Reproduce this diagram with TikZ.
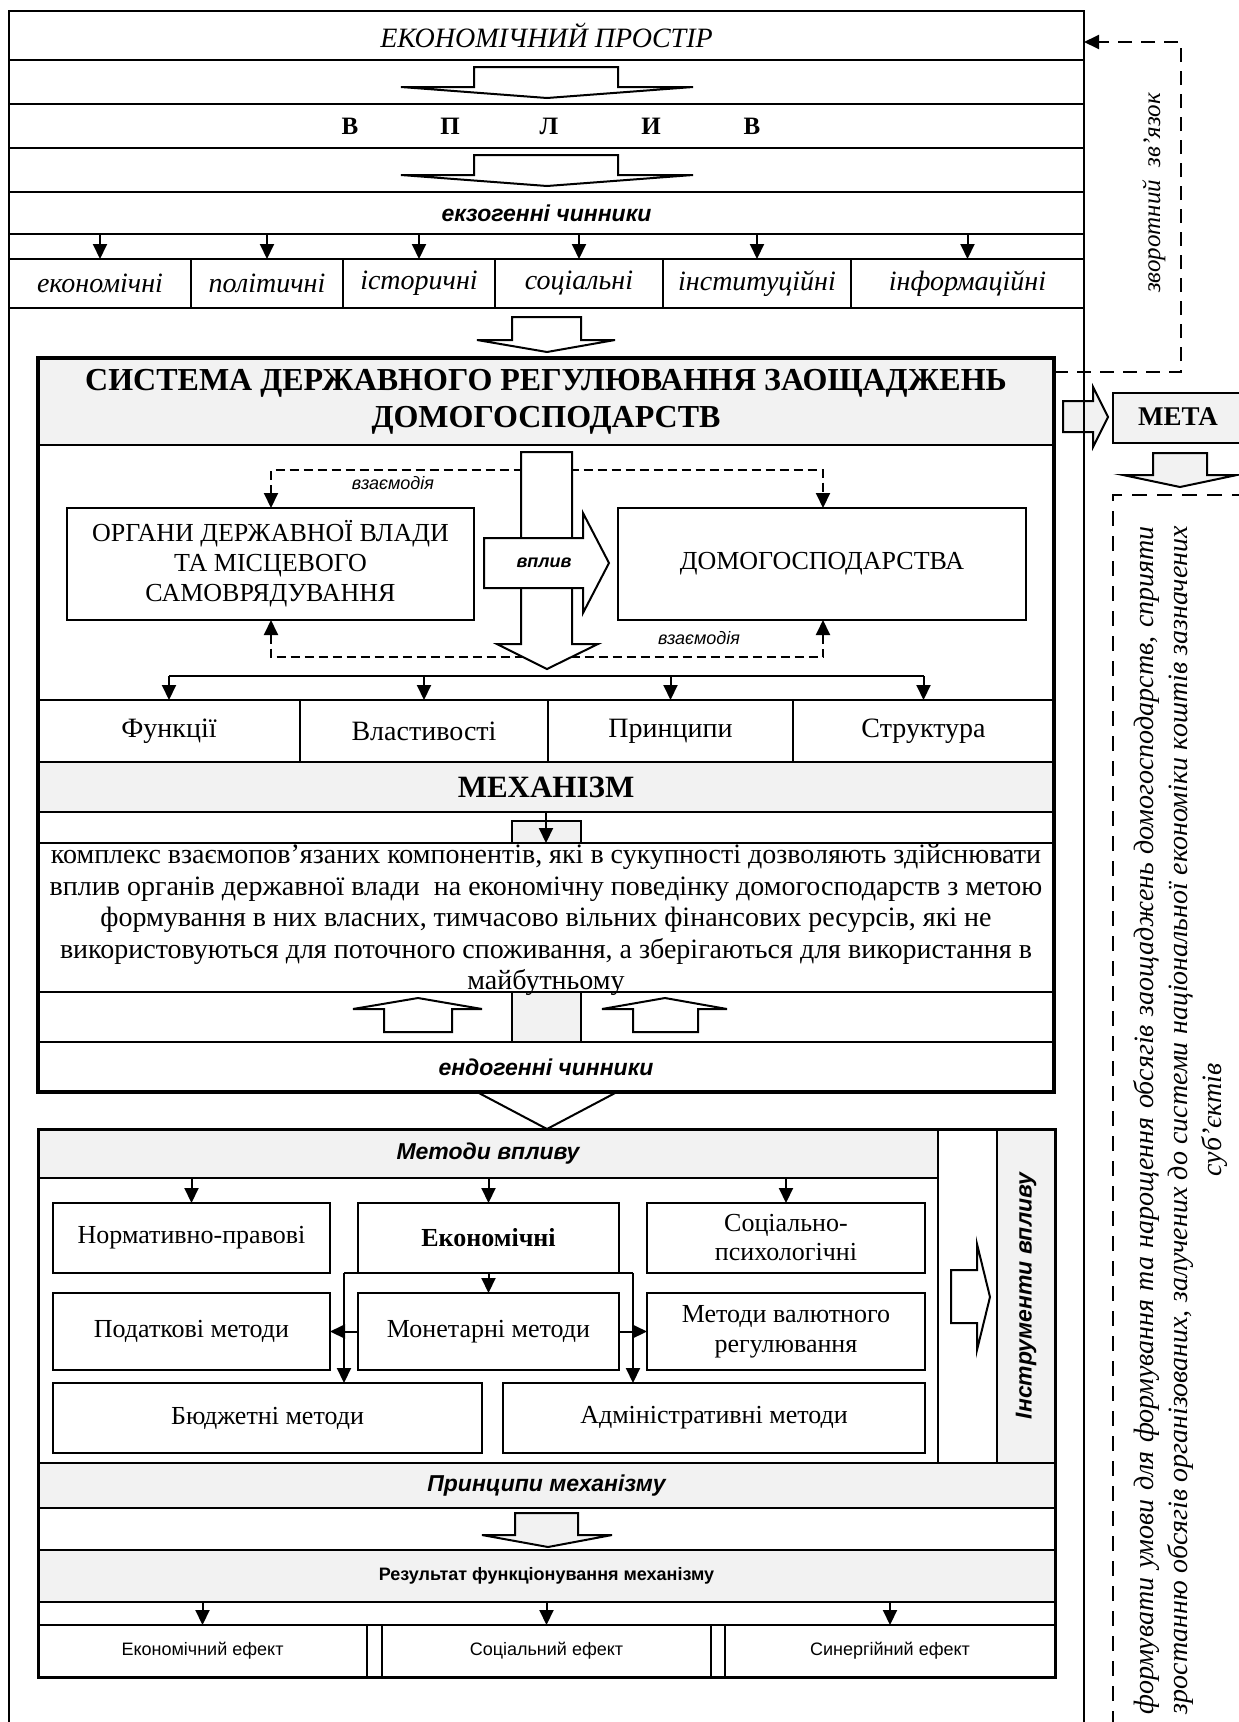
\documentclass[tikz,border=0pt]{standalone}
\usepackage{fontspec}
\setmainfont{Liberation Serif}
\setsansfont{Liberation Sans}
\usetikzlibrary{arrows.meta}
\definecolor{hdr}{RGB}{242,242,242}
\newcommand\fs[2]{\fontsize{#1}{#2}\selectfont}
\newcommand\bxn[7][]{\node[#1, minimum width={(#5)-(#3)}, minimum height={(#6)-(#4)}] (#2) at ({((#3)+(#5))/2},{((#4)+(#6))/2}) {#7};}
\begin{document}
\begin{tikzpicture}[x=1pt,y=-1pt,
 every node/.style={inner sep=0pt,outer sep=0pt},
 box/.style={draw,line width=2pt,align=center},
 hbox/.style={box,fill=hdr},
 ln/.style={line width=2pt},
 arr/.style={line width=2pt,-{Triangle[length=15pt,width=14pt]}},
 blk/.style={draw,line width=2pt,fill=white,line join=miter},
 gblk/.style={blk,fill=hdr},
 inter/.style={line width=2pt,dash pattern=on 9pt off 5pt},
 fbk/.style={line width=2pt,dash pattern=on 14pt off 9pt},
 rmi/.style={font=\fs{28}{32}\itshape},
 rmn/.style={font=\fs{28}{32}},
 sbi/.style={font=\sffamily\bfseries\itshape\fs{23}{27}},
]
\useasboundingbox (0,0) rectangle (1239,1722);

% ---------- top rows ----------
\bxn[box,rmi]{space}{9}{11}{1084}{60}{ЕКОНОМІЧНИЙ ПРОСТІР}
\bxn[box]{rowA}{9}{60}{1084}{104}{}
\bxn[box]{rowV}{9}{104}{1084}{148}{}
\bxn[box]{rowB}{9}{148}{1084}{192}{}
\bxn[box,sbi]{exo}{9}{192}{1084}{234}{екзогенні чинники}
\bxn[box]{rowC}{9}{234}{1084}{259}{}
\bxn[box,rmi]{f1}{9}{259}{191}{308}{економічні}
\bxn[box,rmi]{f2}{191}{259}{343}{308}{політичні}
\bxn[box,rmi]{f3}{343}{259}{495}{308}{історичні}
\bxn[box,rmi]{f4}{495}{259}{663}{308}{соціальні}
\bxn[box,rmi]{f5}{663}{259}{851}{308}{інституційні}
\bxn[box,rmi]{f6}{851}{259}{1084}{308}{інформаційні}
\foreach \x/\l [count=\i] in {350/В,450/П,549/Л,651/И,752/В}
  \node[font=\bfseries\fs{25}{28}] (v\i) at (\x,126) {\l};
\draw[blk] (474,67) -- (618,67) -- (618,87) -- (693,87) -- (547,98) -- (401,87) -- (474,87) -- cycle;
\draw[blk] (474,155) -- (618,155) -- (618,175) -- (693,175) -- (547,186) -- (401,175) -- (474,175) -- cycle;
\foreach \n in {f1,f2,f3,f4,f5,f6} \draw[arr] (\n.north |- exo.south) -- (\n.north);
\draw[blk] (512,317) -- (581,317) -- (581,340) -- (615,340) -- (547,352) -- (477,340) -- (512,340) -- cycle;

% ---------- system ----------
\bxn[hbox,font=\bfseries\fs{32}{37}]{syshdr}{38}{358}{1054}{445}{СИСТЕМА ДЕРЖАВНОГО РЕГУЛЮВАННЯ ЗАОЩАДЖЕНЬ\\ДОМОГОСПОДАРСТВ}
\bxn[box,font=\fs{26}{30}]{org}{67}{508}{474}{620}{ОРГАНИ ДЕРЖАВНОЇ ВЛАДИ\\ТА МІСЦЕВОГО\\САМОВРЯДУВАННЯ}
\bxn[box,font=\fs{26}{30}]{hh}{618}{508}{1026}{620}{ДОМОГОСПОДАРСТВА}
\coordinate (cL) at (271,470); \coordinate (cR) at (823,470);
\coordinate (cLb) at (271,657); \coordinate (cRb) at (823,657);
\draw[inter,{Triangle[length=15pt,width=14pt]}-{Triangle[length=15pt,width=14pt]}] (org.north -| cL) -- (cL) -- (cR) -- (hh.north -| cR);
\draw[inter,{Triangle[length=15pt,width=14pt]}-{Triangle[length=15pt,width=14pt]}] (org.south -| cLb) -- (cLb) -- (cRb) -- (hh.south -| cRb);
\node[font=\sffamily\itshape\fs{18}{20}] (lab1) at (393,483) {взаємодія};
\node[font=\sffamily\itshape\fs{18}{20}] (lab2) at (699,638) {взаємодія};
\draw[blk] (521,452) -- (572,452) -- (572,644) -- (598,644) -- (547,669) -- (497,644) -- (521,644) -- cycle;
\draw[blk] (484,538) -- (583,538) -- (583,513) -- (609,563) -- (583,613) -- (583,588) -- (484,588) -- cycle;
\node[font=\sffamily\bfseries\itshape\fs{18}{20}] (vplT) at (544,563) {вплив};

\bxn[box,rmn]{fn1}{38}{700}{300}{762}{Функції}
\bxn[box,rmn]{fn2}{300}{700}{548}{762}{Властивості}
\bxn[box,rmn]{fn3}{548}{700}{793}{762}{Принципи}
\bxn[box,rmn]{fn4}{793}{700}{1054}{762}{Структура}
\coordinate (cH) at (0,676);
\draw[ln] (fn1.north |- cH) -- (fn4.north |- cH);
\foreach \n in {fn1,fn2,fn3,fn4} \draw[arr] (\n.north |- cH) -- (\n.north);

\bxn[hbox,font=\bfseries\fs{31}{34}]{mech}{38}{762}{1054}{812}{МЕХАНІЗМ}
\bxn[box]{mrow}{38}{812}{1054}{843}{}
\bxn[hbox]{g1}{512}{821}{581}{843}{}
\draw[arr] (mech.south) -- (mech.south |- mrow.south);
\bxn[box]{desc}{38}{843}{1054}{992}{}
\bxn[box]{rowU}{38}{992}{1054}{1042}{}
\bxn[hbox]{g2}{512}{992}{581}{1042}{}
\draw[blk] (384,1032) -- (384,1009) -- (353,1009) -- (418,998) -- (482,1009) -- (452,1009) -- (452,1032) -- cycle;
\draw[blk] (633,1032) -- (633,1009) -- (602,1009) -- (665,998) -- (727,1009) -- (698,1009) -- (698,1032) -- cycle;
\node[font=\fs{28}{31.5},align=center] (descT) at (546,920) {комплекс взаємопов’язаних компонентів, які в сукупності дозволяють здійснювати\\вплив органів державної влади\ \ на економічну поведінку домогосподарств з метою\\формування в них власних, тимчасово вільних фінансових ресурсів, які не\\використовуються для поточного споживання, а зберігаються для використання в\\майбутньому};
\bxn[box,sbi]{endo}{38}{1042}{1054}{1092}{ендогенні чинники}
\draw[blk] (477,1092) -- (617,1092) -- (547,1129) -- cycle;
\bxn[draw,line width=4pt]{sys}{38}{358}{1054}{1092}{}

% ---------- lower block ----------
\bxn[hbox,sbi]{mhdr}{38}{1129}{938}{1178}{Методи впливу}
\bxn[box]{marea}{38}{1178}{938}{1463}{}
\bxn[box]{wcol}{938}{1129}{997}{1463}{}
\bxn[hbox]{instr}{997}{1129}{1055}{1463}{}
\node[sbi,rotate=90] (instrT) at (instr.center) {Інструменти впливу};
\draw[blk] (951,1270) -- (977,1270) -- (977,1244) -- (990,1297) -- (977,1350) -- (977,1323) -- (951,1323) -- cycle;

\bxn[box,font=\fs{26}{29}]{nb}{53}{1203}{330}{1273}{Нормативно-правові}
\bxn[box,font=\bfseries\fs{26}{29}]{eb}{358}{1203}{619}{1273}{Економічні}
\bxn[box,font=\fs{26}{29}]{sb}{647}{1203}{925}{1273}{Соціально-\\психологічні}
\bxn[box,font=\fs{26}{30}]{pb}{53}{1293}{330}{1370}{Податкові методи}
\bxn[box,font=\fs{26}{30}]{mb}{358}{1293}{619}{1370}{Монетарні методи}
\bxn[box,font=\fs{26}{30}]{vb}{647}{1293}{925}{1370}{Методи валютного\\регулювання}
\bxn[box,font=\fs{26}{30}]{bb}{53}{1383}{482}{1453}{Бюджетні методи}
\bxn[box,font=\fs{26}{30}]{ab}{503}{1383}{925}{1453}{Адміністративні методи}
\foreach \n in {nb,eb,sb} \draw[arr] (\n.north |- mhdr.south) -- (\n.north);
\draw[arr] (eb.south) -- (mb.north);
\draw[arr] (mb.west) -- (pb.east);
\draw[arr] (mb.east) -- (vb.west);
\coordinate (bl) at (344,1273); \coordinate (br) at (633,1273);
\draw[ln] (bl) -- (br);
\draw[arr] (bl) -- (bl |- bb.north);
\draw[arr] (br) -- (br |- ab.north);

\bxn[hbox,sbi]{princ}{38}{1463}{1055}{1508}{Принципи механізму}
\bxn[box]{rowP}{38}{1508}{1055}{1550}{}
\draw[gblk] (515,1513) -- (578,1513) -- (578,1535) -- (612,1535) -- (548,1547) -- (482,1535) -- (515,1535) -- cycle;
\bxn[hbox,font=\sffamily\bfseries\fs{18}{21}]{res}{38}{1550}{1055}{1602}{Результат функціонування механізму}
\bxn[box]{rowR}{38}{1602}{1055}{1625}{}
\bxn[box,font=\sffamily\fs{18}{21}]{e1}{38}{1625}{367}{1677}{Економічний ефект}
\bxn[box,font=\sffamily\fs{18}{21}]{e2}{382}{1625}{711}{1677}{Соціальний ефект}
\bxn[box,font=\sffamily\fs{18}{21}]{e3}{725}{1625}{1055}{1677}{Синергійний ефект}
\foreach \n in {e1,e2,e3} \draw[arr] (\n.north |- res.south) -- (\n.north);
\bxn[draw,line width=3pt]{low}{38}{1129}{1055}{1677}{}

% ---------- right side ----------
\draw[gblk] (1063,401) -- (1093,401) -- (1093,387) -- (1108,417) -- (1093,447) -- (1093,432) -- (1063,432) -- cycle;
\bxn[hbox]{meta}{1113}{393}{1250}{443}{}
\node[font=\bfseries\fs{27}{30}] (metaT) at (1178,417) {МЕТА};
\draw[gblk] (1153,453) -- (1207,453) -- (1207,475) -- (1237,475) -- (1180,487) -- (1123,475) -- (1153,475) -- cycle;
\bxn[draw,line width=2pt,dash pattern=on 15pt off 10pt]{goal}{1113}{495}{1260}{1760}{}
\node[rotate=90,font=\itshape\fs{28}{34},align=center] (goalT) at (1180,1120) {\makebox[1188pt][s]{формувати умови для формування та нарощення обсягів заощаджень домогосподарств, сприяти}\\\makebox[1188pt][s]{зростанню обсягів організованих, залучених до системи національної економіки коштів зазначених}\\суб’єктів};

\bxn[box]{outer}{9}{11}{1084}{1745}{}
\coordinate (fbY) at (0,372); \coordinate (fbX) at (1181,42);
\draw[fbk,-{Triangle[length=15pt,width=14pt]}] (sys.east |- fbY) -| (fbX) -- (space.east |- fbX);
\node[rotate=90,font=\itshape\fs{25}{30}] (fbT) at (1154,193) {зворотний\ \ зв’язок};
\end{tikzpicture}
\end{document}
